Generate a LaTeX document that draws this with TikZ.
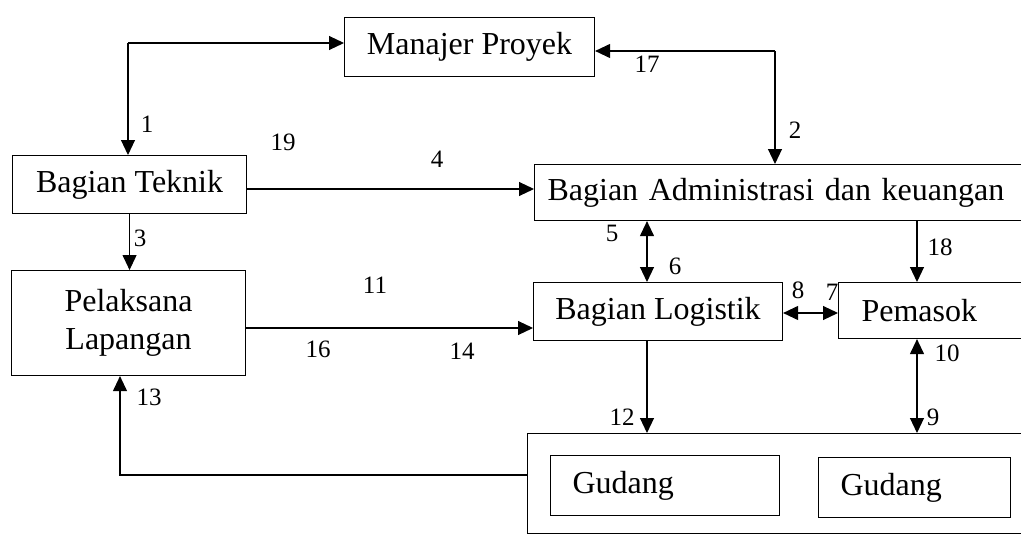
\documentclass[tikz,border=0pt]{standalone}
\usepackage{fontspec}
\setmainfont{Liberation Serif}
\usetikzlibrary{arrows.meta}
\newcommand{\boxfont}{\fontsize{32}{38}\selectfont}
\newcommand{\numfont}{\fontsize{25}{28}\selectfont}
\begin{document}
\begin{tikzpicture}[x=1pt,y=-1pt,
  box/.style={draw, line width=1.1pt, inner sep=0pt, font=\boxfont, anchor=north west},
  lbox/.style={box, align=left},
  num/.style={font=\numfont, inner sep=0pt},
  arr/.style={line width=1.1pt, -{Triangle[length=15pt,width=14pt]}},
  darr/.style={line width=1.1pt, {Triangle[length=15pt,width=14pt]}-{Triangle[length=15pt,width=14pt]}}]
\useasboundingbox (0,0) rectangle (1021,535);
% boxes
\node[box, minimum width=250pt, minimum height=59pt] (mp) at (344,17) {Manajer Proyek};
\node[box, minimum width=234pt, minimum height=58pt] (bt) at (12,155) {Bagian Teknik};
\node[box, minimum width=234pt, minimum height=105pt, align=center] (pl) at (11,270) {Pelaksana\\Lapangan};
\node[lbox, inner xsep=13pt, text width=470pt, minimum height=56pt] (adm) at (534,164) {Bagian Administrasi dan keuangan};
\node[box, minimum width=249pt, minimum height=58pt] (lg) at (533,282) {Bagian Logistik};
\node[lbox, inner xsep=23pt, text width=146pt, minimum height=56pt] (pm) at (838,282) {Pemasok};
\node[box, minimum width=503pt, minimum height=100pt] (gdo) at (527,433) {};
\node[lbox, inner xsep=22pt, text width=185pt, minimum height=60pt] (g1) at (550,455) {Gudang};
\node[lbox, inner xsep=22pt, text width=148pt, minimum height=60pt] (g2) at (818,457) {Gudang};
% helper coordinates
\coordinate (c1) at (128,43);
\coordinate (c2) at (775,51);
\coordinate (y4) at (0,189);
\coordinate (y16) at (0,328);
\coordinate (c13) at (120,475);
\coordinate (x5) at (647,0);
\coordinate (x18) at (917,0);
\coordinate (y8) at (0,313);
% connectors
\draw[arr] (c1) -- (c1 -| mp.west);
\draw[arr] (c1) -- (c1 |- bt.north);
\draw[arr] (c2) -- (c2 -| mp.east);
\draw[arr] (c2) -- (c2 |- adm.north);
\draw[arr] (bt.east |- y4) -- (adm.west |- y4);
\draw[arr] (bt.south) -- (bt.south |- pl.north);
\draw[arr] (pl.east |- y16) -- (lg.west |- y16);
\draw[arr] (gdo.west |- c13) -- (c13) -- (c13 |- pl.south);
\draw[darr] (adm.south -| x5) -- (lg.north -| x5);
\draw[arr] (adm.south -| x18) -- (pm.north -| x18);
\draw[darr] (lg.east |- y8) -- (pm.west |- y8);
\draw[darr] (pm.south -| x18) -- (gdo.north -| x18);
\draw[arr] (lg.south -| x5) -- (gdo.north -| x5);
% labels
\node[num] (l19) at (283,142) {19};
\node[num] (l1) at (147,124) {1};
\node[num] (l17) at (647,64) {17};
\node[num] (l2) at (795,130) {2};
\node[num] (l4) at (437,159) {4};
\node[num] (l3) at (140,238) {3};
\node[num] (l11) at (375,285) {11};
\node[num] (l16) at (318,349) {16};
\node[num] (l14) at (462,351) {14};
\node[num] (l13) at (149,397) {13};
\node[num] (l5) at (612,233) {5};
\node[num] (l6) at (675,266) {6};
\node[num] (l8) at (798,290) {8};
\node[num] (l7) at (832,292) {7};
\node[num] (l18) at (940,247) {18};
\node[num] (l10) at (947,353) {10};
\node[num] (l9) at (933,417) {9};
\node[num] (l12) at (622,417) {12};
\end{tikzpicture}
\end{document}
